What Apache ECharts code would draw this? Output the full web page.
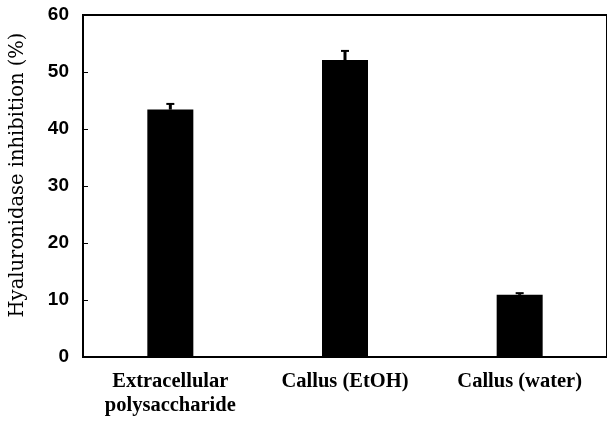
<!DOCTYPE html>
<html><head><meta charset="utf-8">
<script src="https://cdn.jsdelivr.net/npm/echarts@6/dist/echarts.min.js"></script>
<style>html,body{margin:0;padding:0;background:#fff}#c{width:607px;height:423px}</style>
</head><body><div id="c"></div>
<script>
const categories = ['Extracellular\npolysaccharide', 'Callus (EtOH)', 'Callus (water)'];
const values = [43.4, 52.1, 10.9];
const errors = [1.0, 1.6, 0.3];
const yTicks = [0, 10, 20, 30, 40, 50, 60];
const yAxisTitle = 'Hyaluronidase inhibition (%)';

const chart = echarts.init(document.getElementById('c'));
chart.setOption({
  animation: false,
  grid: { left: 83, right: -3, top: 15, bottom: 66, show: true, borderColor: '#000', borderWidth: 2, backgroundColor: 'transparent' },
  graphic: [{
    type: 'text', x: 18, y: 175, rotation: Math.PI / 2,
    style: { text: yAxisTitle, fill: '#000', font: '19.5px "DejaVu Serif"', textAlign: 'center', textVerticalAlign: 'middle' }
  }],
  xAxis: {
    type: 'category', data: categories,
    axisLine: { lineStyle: { color: '#000', width: 2 } },
    axisTick: { inside: true, length: 4, lineStyle: { color: '#000', width: 1 } },
    axisLabel: { color: '#000', fontFamily: 'Liberation Serif', fontWeight: 'bold', fontSize: 20.5, margin: 13, lineHeight: 24 }
  },
  yAxis: {
    type: 'value', min: 0, max: 60, interval: 10,
    axisLine: { show: true, lineStyle: { color: '#000', width: 2 } },
    axisTick: { show: true, inside: true, length: 5, lineStyle: { color: '#000', width: 1 } },
    splitLine: { show: false },
    axisLabel: { color: '#000', fontFamily: 'Liberation Sans', fontWeight: 'bold', fontSize: 19, margin: 14,
      formatter: v => yTicks.includes(v) ? String(v) : '' }
  },
  series: [
    { type: 'bar', data: values, barWidth: 46, itemStyle: { color: '#000' } },
    { type: 'custom', data: values.map((v, i) => [i, v, errors[i]]),
      renderItem: (params, api) => {
        const x = api.value(0), v = api.value(1), e = api.value(2);
        const p0 = api.coord([x, v]);
        const p1 = api.coord([x, v + e]);
        return { type: 'group', children: [
          { type: 'line', shape: { x1: p0[0], y1: p0[1], x2: p1[0], y2: p1[1] }, style: { stroke: '#000', lineWidth: 3 } },
          { type: 'line', shape: { x1: p1[0] - 4, y1: p1[1], x2: p1[0] + 4, y2: p1[1] }, style: { stroke: '#000', lineWidth: 2 } }
        ]};
      }, z: 3 }
  ]
});
</script></body></html>
